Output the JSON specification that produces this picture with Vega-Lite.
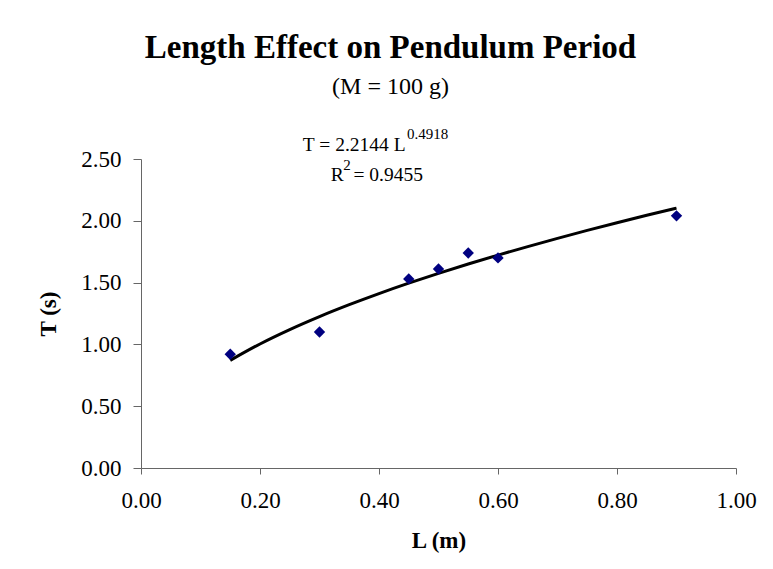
{
  "$schema": "https://vega.github.io/schema/vega-lite/v6.json",
  "width": 595,
  "height": 309,
  "autosize": {"type": "none"},
  "padding": {"left": 141, "top": 159, "right": 37, "bottom": 101},
  "background": "white",
  "title": {
    "text": "Length Effect on Pendulum Period",
    "subtitle": "(M = 100 g)",
    "anchor": "middle",
    "frame": "group",
    "dx": -48,
    "offset": 28,
    "font": "Liberation Serif",
    "fontSize": 33,
    "fontWeight": "bold",
    "color": "black",
    "subtitleFont": "Liberation Serif",
    "subtitleFontSize": 24,
    "subtitleColor": "black",
    "subtitlePadding": 10
  },
  "config": {
    "view": {"stroke": null},
    "text": {"font": "Liberation Serif"},
    "axis": {
      "labelFont": "Liberation Serif",
      "labelFontSize": 23,
      "labelColor": "black",
      "titleFont": "Liberation Serif",
      "titleFontSize": 23,
      "titleFontWeight": "bold",
      "titleColor": "black",
      "domainColor": "#666666",
      "tickColor": "#666666",
      "grid": false
    }
  },
  "layer": [
    {
      "data": {"values": [
        {"L": 0.15, "T": 0.8711}, {"L": 0.20, "T": 1.0035}, {"L": 0.25, "T": 1.1198},
        {"L": 0.30, "T": 1.2249}, {"L": 0.35, "T": 1.3213}, {"L": 0.40, "T": 1.4111},
        {"L": 0.45, "T": 1.4952}, {"L": 0.50, "T": 1.5747}, {"L": 0.55, "T": 1.6503},
        {"L": 0.60, "T": 1.7224}, {"L": 0.65, "T": 1.7915}, {"L": 0.70, "T": 1.8581},
        {"L": 0.75, "T": 1.9223}, {"L": 0.80, "T": 1.9843}, {"L": 0.85, "T": 2.0443},
        {"L": 0.90, "T": 2.1026}
      ]},
      "mark": {"type": "line", "color": "black", "strokeWidth": 3, "interpolate": "monotone"},
      "encoding": {
        "x": {"field": "L", "type": "quantitative",
              "scale": {"domain": [0, 1], "nice": false},
              "axis": {"title": "L (m)", "values": [0, 0.2, 0.4, 0.6, 0.8, 1.0], "format": ".2f",
                       "tickSize": 6, "labelPadding": 15, "titlePadding": 17, "labelFlush": false}},
        "y": {"field": "T", "type": "quantitative",
              "scale": {"domain": [0, 2.5], "nice": false},
              "axis": {"title": "T (s)", "values": [0, 0.5, 1, 1.5, 2, 2.5], "format": ".2f",
                       "tickSize": 8, "labelPadding": 12, "titlePadding": 20, "labelFlush": false}}
      }
    },
    {
      "data": {"values": [
        {"L": 0.15, "T": 0.92}, {"L": 0.30, "T": 1.10}, {"L": 0.45, "T": 1.53},
        {"L": 0.50, "T": 1.61}, {"L": 0.55, "T": 1.74}, {"L": 0.60, "T": 1.70},
        {"L": 0.90, "T": 2.04}
      ]},
      "mark": {"type": "point", "shape": "diamond", "filled": true, "color": "#000080", "size": 130, "opacity": 1},
      "encoding": {
        "x": {"field": "L", "type": "quantitative"},
        "y": {"field": "T", "type": "quantitative"}
      }
    },
    {
      "data": {"values": [
        {"L": 0.272, "T": 2.565, "txt": "T = 2.2144 L"},
        {"L": 0.319, "T": 2.32, "txt": "R"},
        {"L": 0.357, "T": 2.32, "txt": "= 0.9455"}
      ]},
      "mark": {"type": "text", "align": "left", "baseline": "alphabetic", "font": "Liberation Serif", "fontSize": 19.5, "color": "black"},
      "encoding": {
        "x": {"field": "L", "type": "quantitative"},
        "y": {"field": "T", "type": "quantitative"},
        "text": {"field": "txt"}
      }
    },
    {
      "data": {"values": [
        {"L": 0.447, "T": 2.66, "txt": "0.4918"},
        {"L": 0.340, "T": 2.415, "txt": "2"}
      ]},
      "mark": {"type": "text", "align": "left", "baseline": "alphabetic", "font": "Liberation Serif", "fontSize": 15, "color": "black"},
      "encoding": {
        "x": {"field": "L", "type": "quantitative"},
        "y": {"field": "T", "type": "quantitative"},
        "text": {"field": "txt"}
      }
    }
  ]
}
